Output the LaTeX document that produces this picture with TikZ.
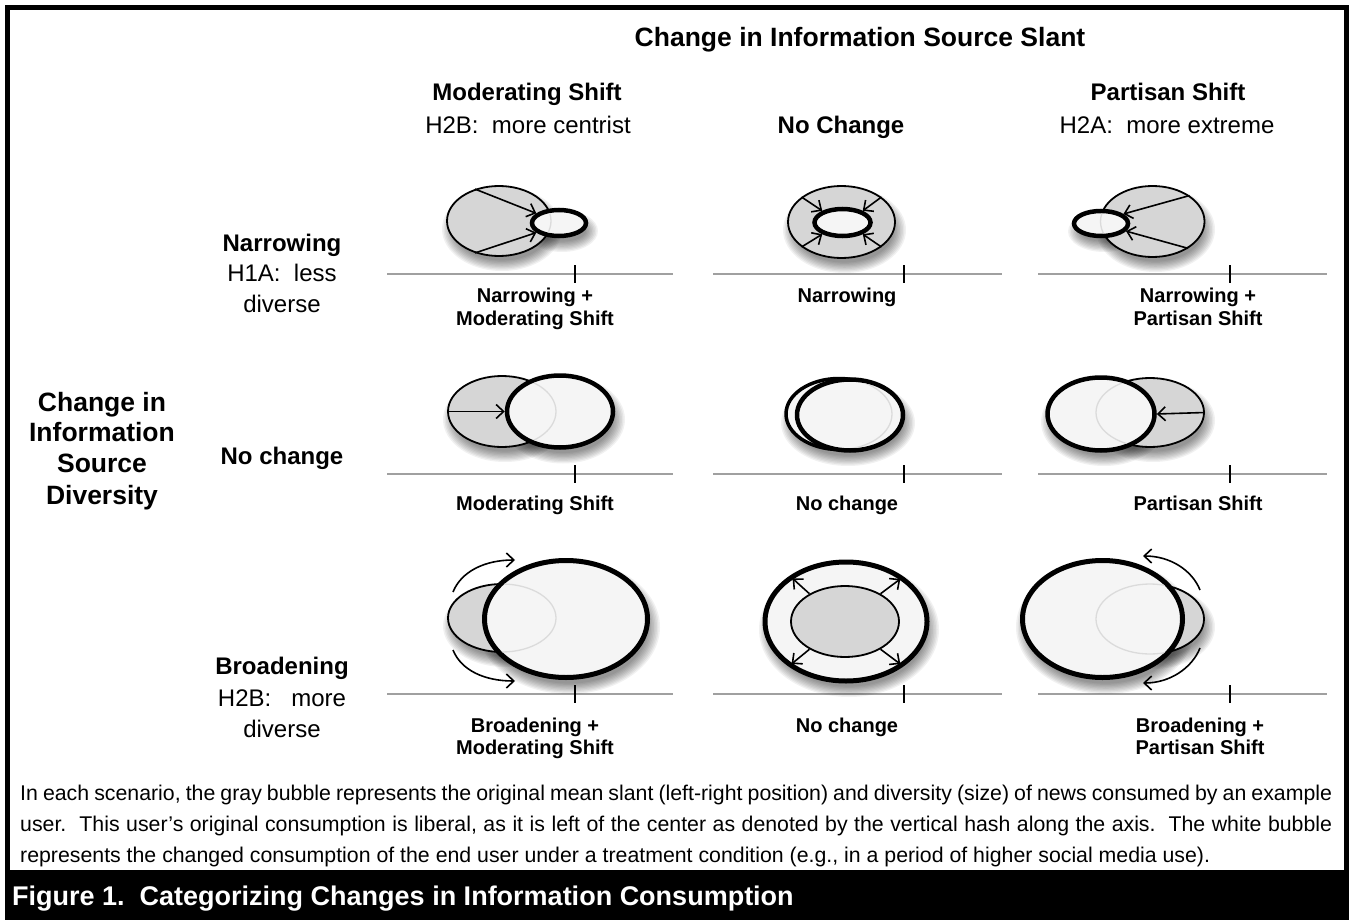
\documentclass[tikz,border=0pt]{standalone}
\usepackage{fontspec}
\setmainfont{Liberation Sans}
\usetikzlibrary{shapes.geometric,arrows.meta}

\definecolor{bubgray}{HTML}{D6D6D6}
\definecolor{bubwhite}{HTML}{F5F5F5}
\definecolor{axisgray}{HTML}{A0A0A0}

\newcommand\fsz[1]{\fontsize{#1}{#1}\selectfont}
% soft drop shadow under a bubble: centre x, centre y, x radius, y radius
\newcommand\bubshadow[4]{%
  \foreach \k in {0,...,8}{%
    \fill[black,opacity=0.055] (#1+3,#2+8)
      ellipse [x radius={(#3+7-1.5*\k)*1pt}, y radius={(#4+6-1.3*\k)*1pt}];
  }}
% faint outline of a covered bubble seen through the bubble on top:
% top node, its inner x/y radius, covered node, its x/y radius
\newcommand\faintedge[6]{%
  \begin{scope}
    \clip (#1.center) ellipse [x radius=#2pt, y radius=#3pt];
    \draw[black!14, line width=1.3pt] (#4.center) ellipse [x radius=#5pt, y radius=#6pt];
  \end{scope}}

\begin{document}
\begin{tikzpicture}[x=1pt,y=-1pt,
  rad/.style 2 args={minimum width={2*#1 pt}, minimum height={2*#2 pt}},
  origbub/.style={ellipse, draw=black, line width=1.8pt, fill=bubgray, inner sep=0pt},
  newbub/.style={ellipse, draw=black, line width=4.5pt, fill=bubwhite, inner sep=0pt},
  flow/.style={-{Straight Barb[length=7.5pt,width=14pt]}, line width=1.6pt},
  axisline/.style={draw=axisgray, line width=1.3pt},
  tickmark/.style={line width=2pt},
  ttl/.style={font=\bfseries\fsz{26.5}, anchor=base},
  hd/.style={font=\bfseries\fsz{24}, anchor=base},
  sb/.style={font=\fsz{24}, anchor=base},
  ax/.style={font=\bfseries\fsz{20}, anchor=base},
  body/.style={font=\fsz{21.3}, anchor=base west, inner sep=0pt},
  capt/.style={font=\bfseries\fsz{27}, text=white, anchor=base west, inner sep=0pt}
]
\useasboundingbox (0,0) rectangle (1349,920);
\fill[white] (0,0) rectangle (1349,920);

% frame and caption band
\draw[line width=5pt] (7.5,7.5) rectangle (1346.5,895);
\fill[black] (5,870) rectangle (1349,920);

% column and row headings
\node[ttl] (slant) at (860,46.5) {Change in Information Source Slant};
\node[hd] (colA) at (527,100.6) {Moderating Shift};
\node[sb] (colAh) at (528,133.6) {H2B:\ \ more centrist};
\node[hd] (colB) at (841,133.6) {No Change};
\node[hd] (colC) at (1168,100.6) {Partisan Shift};
\node[sb] (colCh) at (1167,133.6) {H2A:\ \ more extreme};

\node[ttl] (div1) at (102,411.3) {Change in};
\node[ttl] (div2) at (102,441.3) {Information};
\node[ttl] (div3) at (102,472.3) {Source};
\node[ttl] (div4) at (102,504.3) {Diversity};

\node[hd] (rowA) at (282,251.6) {Narrowing};
\node[sb] (rowAh) at (282,281.6) {H1A:\ \ less};
\node[sb] (rowAd) at (282,312.6) {diverse};
\node[hd] (rowB) at (282,464.6) {No change};
\node[hd] (rowC) at (282,674.6) {Broadening};
\node[sb] (rowCh) at (282,706.6) {H2B:\ \ \ more};
\node[sb] (rowCd) at (282,737.6) {diverse};

% axes with centre ticks
\foreach \r/\yy in {1/274,2/474,3/694}{
  \foreach \c/\xa/\xb/\xt in {1/387/673/575, 2/713/1002/904, 3/1038/1327/1230}{
    \coordinate (axl-\r-\c) at (\xa,\yy);
    \coordinate (axr-\r-\c) at (\xb,\yy);
    \coordinate (tk-\r-\c) at (\xt,\yy);
    \draw[axisline] (axl-\r-\c) -- (axr-\r-\c);
    \draw[tickmark] ([yshift=9pt]tk-\r-\c) -- ([yshift=-9pt]tk-\r-\c);
  }}

% scenario labels
\node[ax] (l11a) at (535,302) {Narrowing +};
\node[ax] (l11b) at (535,325) {Moderating Shift};
\node[ax] (l12) at (847,302) {Narrowing};
\node[ax] (l13a) at (1198,302) {Narrowing +};
\node[ax] (l13b) at (1198,325) {Partisan Shift};
\node[ax] (l21) at (535,510) {Moderating Shift};
\node[ax] (l22) at (847,510) {No change};
\node[ax] (l23) at (1198,510) {Partisan Shift};
\node[ax] (l31a) at (535,732) {Broadening +};
\node[ax] (l31b) at (535,754) {Moderating Shift};
\node[ax] (l32) at (847,732) {No change};
\node[ax] (l33a) at (1200,732) {Broadening +};
\node[ax] (l33b) at (1200,754) {Partisan Shift};

% shadows beneath the bubbles
\bubshadow{499}{221}{53}{36}
\bubshadow{559}{223}{29}{15}
\bubshadow{841.5}{222}{54.5}{37}
\bubshadow{1152.5}{221.5}{52.5}{36.5}
\bubshadow{1101}{223.5}{29}{14.5}
\bubshadow{502}{411.5}{55}{36.5}
\bubshadow{560}{411.5}{55}{38}
\bubshadow{845}{415}{60}{37}
\bubshadow{1101}{414}{56}{38}
\bubshadow{1150}{412.5}{55}{35.5}
\bubshadow{502}{618}{55}{35}
\bubshadow{566}{619}{84}{61}
\bubshadow{846}{621.5}{83}{61.5}
\bubshadow{1102.5}{619}{82.5}{61}
\bubshadow{1150}{619}{55}{36}

% row 1: narrowing
\node[origbub, rad={52}{35}] (g11) at (499,221) {};
\node[newbub, rad={27}{13}] (w11) at (559,223) {};
\faintedge{w11}{24.5}{10.5}{g11}{52}{35}
\draw[flow] (g11.127) -- (w11.157);
\draw[flow] (g11.233) -- (w11.203);

\node[origbub, rad={53.5}{36}] (g12) at (841.5,222) {};
\node[newbub, rad={28}{13.5}] (w12) at (842.5,222.5) {};
\draw[flow] (g12.148) -- (w12.150);
\draw[flow] (g12.32) -- (w12.30);
\draw[flow] (g12.212) -- (w12.210);
\draw[flow] (g12.328) -- (w12.330);

\node[origbub, rad={52}{35.5}] (g13) at (1152.5,221.5) {};
\node[newbub, rad={27}{12.5}] (w13) at (1101,223.5) {};
\faintedge{w13}{24.5}{10}{g13}{52}{35.5}
\draw[flow] (g13.35) -- (w13.23);
\draw[flow] (g13.-37) -- (w13.-17);

% row 2: no change in diversity
\node[origbub, rad={54}{35.5}] (g21) at (502,411.5) {};
\node[newbub, rad={53}{36}] (w21) at (560,411.5) {};
\faintedge{w21}{50.5}{33.5}{g21}{54}{35.5}
\draw[flow] (g21.west) -- (w21.west);

\node[newbub, line width=3.5pt, rad={53}{35.5}] (g22) at (839,414) {};
\node[newbub, rad={53}{35.5}] (w22) at (850,415) {};
\faintedge{w22}{50.5}{33}{g22}{53}{35.5}

\node[origbub, rad={54}{34.5}] (g23) at (1150,412.5) {};
\node[newbub, rad={53.5}{36.5}] (w23) at (1101,414) {};
\faintedge{w23}{51}{34}{g23}{54}{34.5}
\draw[flow] (g23.east) -- (w23.east);

% row 3: broadening
\node[origbub, rad={54}{34}] (g31) at (502,618) {};
\node[newbub, line width=5pt, rad={81.5}{58.5}] (w31) at (566,619) {};
\faintedge{w31}{79}{56}{g31}{54}{34}
\coordinate (c31a) at (453,592);
\coordinate (c31b) at (515,560);
\coordinate (c31c) at (453,650);
\coordinate (c31d) at (515,681);
\draw[flow] (c31a) .. controls (461,572) and (484,560) .. (c31b);
\draw[flow] (c31c) .. controls (461,670) and (484,681) .. (c31d);

\node[newbub, line width=5pt, rad={81}{59.5}] (w32) at (846,621.5) {};
\node[origbub, rad={54}{35.5}] (g32) at (845,621.5) {};
\draw[flow, shorten >=4pt] (g32.142) -- (w32.141);
\draw[flow, shorten >=4pt] (g32.38) -- (w32.38);
\draw[flow, shorten >=4pt] (g32.218) -- (w32.218);
\draw[flow, shorten >=4pt] (g32.322) -- (w32.322);

\node[origbub, rad={54}{35}] (g33) at (1150,619) {};
\node[newbub, line width=5pt, rad={80}{58.5}] (w33) at (1102.5,619) {};
\faintedge{w33}{77.5}{56}{g33}{54}{35}
\coordinate (c33a) at (1200,590);
\coordinate (c33b) at (1143,556);
\coordinate (c33c) at (1200,648);
\coordinate (c33d) at (1143,683);
\draw[flow] (c33a) .. controls (1192,570) and (1170,556) .. (c33b);
\draw[flow] (c33c) .. controls (1192,668) and (1170,683) .. (c33d);

% explanatory note
\frenchspacing
\node[body] (note1) at (20,800.5) {\makebox[1312pt][s]{In each scenario, the gray bubble represents the original mean slant (left-right position) and diversity (size) of news consumed by an example}};
\node[body] (note2) at (20,831.5) {\makebox[1312pt][s]{user.\ \ This user’s original consumption is liberal, as it is left of the center as denoted by the vertical hash along the axis.\ \ The white bubble}};
\node[body] (note3) at (20,862.5) {represents the changed consumption of the end user under a treatment condition (e.g., in a period of higher social media use).};

% caption
\node[capt] (caption) at (12,905.5) {Figure 1.\ \ Categorizing Changes in Information Consumption};
\end{tikzpicture}
\end{document}
